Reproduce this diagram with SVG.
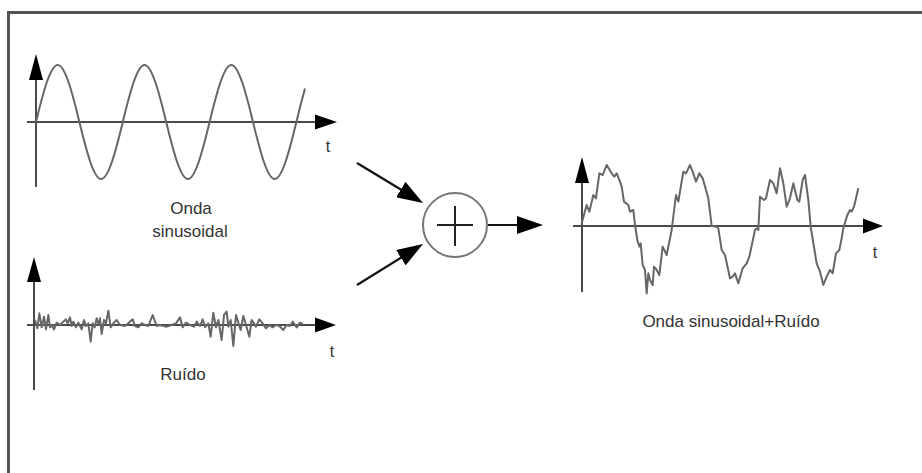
<svg xmlns="http://www.w3.org/2000/svg" width="922" height="473" viewBox="0 0 922 473">
<style>
.frame{fill:none;stroke:#555;stroke-width:3}
.axis{fill:none;stroke:#4a4a4a;stroke-width:2}
.head{fill:#000}
.wave{fill:none;stroke:#666;stroke-width:2;stroke-linejoin:round}
.conn{fill:none;stroke:#111;stroke-width:2.2}
.lbl{font-family:"Liberation Sans",Arial,sans-serif;font-size:17px;fill:#333;text-anchor:middle}
.tl{font-family:"Liberation Sans",Arial,sans-serif;font-size:16px;fill:#333;text-anchor:middle}
</style>
<defs>
<marker id="arr" markerUnits="userSpaceOnUse" viewBox="0 0 26 18" refX="16" refY="9" markerWidth="26" markerHeight="18" orient="auto">
<path d="M0,0 L26,9 L0,18 z" fill="#000"/>
</marker>
</defs>
<rect width="922" height="473" fill="#fff"/>
<path class="frame" d="M8.5,473 V12.5 H922"/>

<g id="sine">
<line class="axis" x1="36" y1="187" x2="36" y2="78"/>
<polygon class="head" points="36,54 29,80 43,80"/>
<line class="axis" x1="27" y1="122" x2="317" y2="122"/>
<polygon class="head" points="337,122 315,114.5 315,129.5"/>
<path class="wave" d="M36,122 C43.08,92.8 50.35,65 57.7,65 S72.32,92.8 79.4,122 S93.75,179 101.1,179 S115.72,151.2 122.8,122 S137.15,65 144.5,65 S159.12,92.8 166.2,122 S180.55,179 187.9,179 S202.52,151.2 209.6,122 S223.95,65 231.3,65 S245.92,92.8 253,122 S267.35,179 274.7,179 S289.32,151.2 296.4,122 L300.5,105.3 L305,88.5"/>
<text class="tl" x="328" y="152">t</text>
<text class="lbl" x="191" y="214">Onda</text>
<text class="lbl" x="190" y="237">sinusoidal</text>
</g>

<g id="noise">
<line class="axis" x1="34" y1="390" x2="34" y2="280"/>
<polygon class="head" points="34,257 27,282 41,282"/>
<line class="axis" x1="27" y1="325" x2="317" y2="325"/>
<polygon class="head" points="336,325 315,317.5 315,332.5"/>
<polyline class="wave" vector-effect="non-scaling-stroke" stroke-width="1.8" transform="translate(20 240) scale(0.33333)" points="45,240 52,265 58,220 65,262 72,230 78,268 85,225 90,262 95,255 102,268 110,248 120,255 130,245 138,238 143,250 150,232 155,258 160,245 168,262 175,248 185,268 192,240 198,258 205,250 212,305 218,250 224,262 230,235 236,255 240,235 245,282 252,240 258,250 265,212 272,262 280,250 290,240 300,255 315,258 325,250 338,238 345,258 355,262 365,250 375,255 385,258 398,225 410,258 420,255 440,260 455,255 468,250 480,232 488,262 498,248 510,255 522,260 530,245 540,258 548,238 555,262 565,250 572,290 580,218 588,262 595,240 605,300 612,225 620,215 625,260 632,240 640,318 648,225 655,248 662,270 670,228 678,255 688,290 695,240 708,260 718,238 728,250 738,265 748,255 758,262 768,255 778,258 790,270 800,255 810,258 818,245 830,262 840,248 848,252"/>
<text class="tl" x="332" y="357">t</text>
<text class="lbl" x="183" y="380">Ruído</text>
</g>

<g id="sum">
<circle cx="455" cy="225" r="32" fill="#fff" stroke="#777" stroke-width="2"/>
<line x1="437" y1="225" x2="473" y2="225" stroke="#222" stroke-width="2"/>
<line x1="455" y1="206" x2="455" y2="246" stroke="#222" stroke-width="2"/>
</g>

<g id="result">
<line class="axis" x1="582" y1="292" x2="582" y2="181"/>
<polygon class="head" points="582,157 575,183 589,183"/>
<line class="axis" x1="573" y1="226" x2="865" y2="226"/>
<polygon class="head" points="883,226 863,218.5 863,233.5"/>
<polyline class="wave" vector-effect="non-scaling-stroke" transform="translate(560 140) scale(0.33333)" points="65,250 80,195 88,215 100,165 108,175 118,100 128,105 140,75 155,100 163,110 170,100 180,125 185,140 192,185 205,195 210,215 220,210 225,255 232,300 238,320 242,310 248,375 255,390 260,460 265,400 270,420 278,435 282,380 290,390 298,405 308,320 320,345 335,270 348,165 355,185 370,95 378,100 390,75 398,95 408,125 418,100 428,115 445,175 455,258 470,260 475,265 485,330 495,345 510,415 518,410 525,400 535,430 548,385 560,370 568,350 585,270 590,265 595,270 600,170 612,180 618,175 630,120 640,130 650,160 660,85 670,130 680,200 690,175 700,130 712,180 718,185 728,120 735,105 745,180 752,260 770,370 780,395 790,435 800,410 810,390 818,400 828,340 838,330 845,295 850,265 862,225 870,210 875,215 882,200 895,145"/>
<text class="tl" x="875" y="258">t</text>
<text class="lbl" x="731" y="327">Onda sinusoidal+Ruído</text>
</g>

<g id="connectors">
<line class="conn" x1="357" y1="163" x2="414.45" y2="197.8" marker-end="url(#arr)"/>
<line class="conn" x1="357" y1="285" x2="414.5" y2="249.3" marker-end="url(#arr)"/>
<line class="conn" x1="488" y1="225" x2="533" y2="225" marker-end="url(#arr)"/>
</g>
</svg>
